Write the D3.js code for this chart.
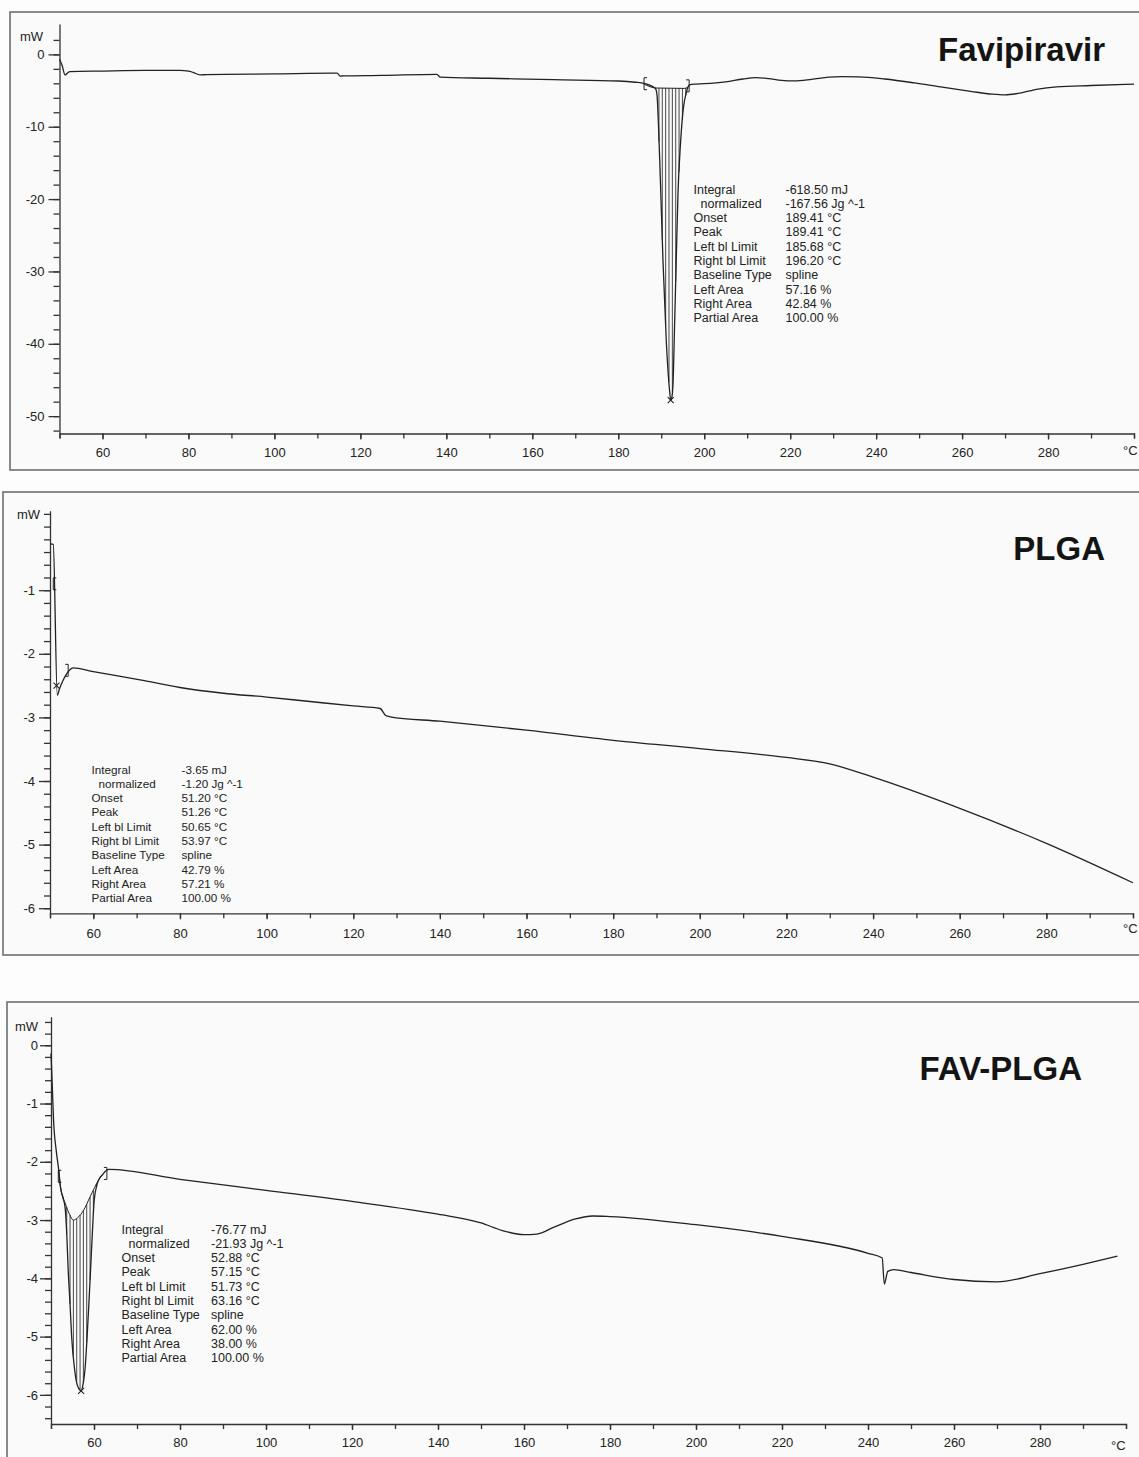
<!DOCTYPE html>
<html>

<head>
    <meta charset="utf-8">
    <style>
        body {
            margin: 0;
            background: #fdfdfd;
            font-family: 'Liberation Sans', Arial, sans-serif;
        }

        svg {
            display: block;
        }

        .axis .domain,
        .axis .tick line {
            stroke: #333;
            stroke-width: 1.3;
        }

        .axis .tick text {
            font-size: 13px;
            fill: #222;
            font-family: 'Liberation Sans', Arial, sans-serif;
        }

        .curve {
            fill: none;
            stroke: #222;
            stroke-width: 1.3;
        }

        .note {
            fill: #222;
        }

        .title {
            font-size: 33px;
            font-weight: bold;
            fill: #141414;
        }
    </style>
</head>

<body>
    <svg width="1139" height="1457"></svg>
</body>

<script src="https://d3js.org/d3.v7.min.js"></script>

<script>
    // ---- data: [temperature °C, heat flow mW] ----

    const favCurve = [
        [50, -0.67], [50.6, -1.5], [51.3, -2.84], [51.8, -2.6], [52.4, -2.38], [60, -2.3], [70, -2.22],
        [78, -2.22], [80, -2.3], [81.1, -2.5], [82.7, -2.84], [84.2, -2.79], [100, -2.7], [113.7, -2.6],
        [114.6, -2.6], [115.3, -3.0], [116, -2.97], [125, -2.9], [137.8, -2.75], [138.6, -3.15],
        [150, -3.3], [165, -3.5], [180, -3.68], [184, -3.85], [186, -4.0], [187.7, -4.35], [188.7, -4.75],
        [189.0, -5.5], [189.65, -14.6], [190.4, -28.4], [191.2, -39.9], [191.95, -46.5], [192.2, -47.8],
        [192.5, -47.3], [192.75, -45.5], [193.1, -37.6], [193.5, -28.4], [193.9, -19.2], [194.5, -12.2],
        [195.1, -7.7], [195.9, -5.1], [196.6, -4.2], [198, -4.1], [200, -4.05], [205, -3.8], [209, -3.4],
        [212, -3.2], [215, -3.35], [218, -3.6], [221, -3.67], [225, -3.45], [229, -3.15], [232, -3.07],
        [236, -3.1], [242, -3.4], [249, -3.95], [255, -4.5], [262, -5.1], [267, -5.5], [270, -5.6],
        [273, -5.4], [277.7, -4.8], [282, -4.5], [290, -4.3], [300, -4.1]
    ];
    const favBaseline = [[186.0, -4.1], [188.8, -4.65], [195.5, -4.7], [196.5, -4.35]];
    const favLimits = [[186.0, -4.05], [196.5, -4.35]];
    const favPeak = [192.2, -47.8];

    const plgaCurve = [
        [50.15, -0.27], [50.75, -0.28], [51.68, -2.65], [52.2, -2.55], [53, -2.42], [54.6, -2.25],
        [55.3, -2.22], [60, -2.28], [70.8, -2.41], [80, -2.53], [90, -2.62], [100, -2.68], [110, -2.75],
        [120, -2.82], [126.2, -2.86], [127.5, -2.97], [128.5, -2.99], [140, -3.06], [160, -3.2],
        [180, -3.36], [200, -3.49], [220, -3.63], [230, -3.73], [240, -3.94], [260, -4.43],
        [280, -4.98], [300, -5.6]
    ];
    const plgaBaseline = [];
    const plgaLimits = [[50.76, -0.9], [54.2, -2.26]];
    const plgaPeak = [51.5, -2.5];

    const favPlgaCurve = [
        [50, -0.14], [50.3, -0.7], [50.6, -1.29], [51.2, -1.8], [51.8, -2.14], [52.2, -2.43], [52.8, -2.62],
        [53.3, -2.8], [53.7, -3.3], [54.0, -3.86], [54.4, -4.4], [54.8, -5.0], [55.5, -5.57], [56.2, -5.85],
        [57.0, -5.93], [57.5, -5.8], [57.9, -5.57], [58.4, -5.0], [58.8, -4.45], [59.2, -3.86], [59.6, -3.25],
        [60.0, -2.71], [60.6, -2.42], [61.1, -2.31], [62, -2.22], [63, -2.14], [63.5, -2.13], [80, -2.3],
        [100, -2.49], [120, -2.68], [140, -2.9], [150, -3.05], [155, -3.18], [160, -3.25], [163, -3.24],
        [167, -3.12], [172, -2.98], [176, -2.93], [180, -2.94], [200, -3.08], [220, -3.28], [240, -3.57],
        [243.3, -3.65], [243.8, -4.1], [244.6, -3.88], [246, -3.85], [250, -3.9], [260, -4.02],
        [270, -4.06], [280, -3.92], [290, -3.76], [298, -3.62]
    ];
    const favPlgaBaseline = [
        [51.8, -2.14], [52.2, -2.43], [53.3, -2.71], [54.3, -2.9], [55.2, -3.0], [56.2, -2.96],
        [57.6, -2.83], [59.1, -2.6], [61.1, -2.31], [63.0, -2.14]
    ];
    const favPlgaLimits = [[51.7, -2.25], [63.0, -2.2]];
    const favPlgaPeak = [57.0, -5.93];

    // integration report labels / values
    const noteLabels = ["Integral", "normalized", "Onset", "Peak", "Left bl Limit", "Right bl Limit",
        "Baseline Type", "Left Area", "Right Area", "Partial Area"];
    const favNotes = ["-618.50 mJ", "-167.56 Jg ^-1", "189.41 °C", "189.41 °C", "185.68 °C", "196.20 °C",
        "spline", "57.16 %", "42.84 %", "100.00 %"];
    const plgaNotes = ["-3.65 mJ", "-1.20 Jg ^-1", "51.20 °C", "51.26 °C", "50.65 °C", "53.97 °C",
        "spline", "42.79 %", "57.21 %", "100.00 %"];
    const favPlgaNotes = ["-76.77 mJ", "-21.93 Jg ^-1", "52.88 °C", "57.15 °C", "51.73 °C", "63.16 °C",
        "spline", "62.00 %", "38.00 %", "100.00 %"];

    // tick labels
    const xTicks = [60, 80, 100, 120, 140, 160, 180, 200, 220, 240, 260, 280];
    const favYTicks = [0, -10, -20, -30, -40, -50];
    const plgaYTicks = [-1, -2, -3, -4, -5, -6];
    const favPlgaYTicks = [0, -1, -2, -3, -4, -5, -6];

    const svg = d3.select("svg");

    const panels = [
        {
            title: "Favipiravir", titleX: 1105, titleY: 61,
            frame: [10, 12, 1140, 470],
            xRange: [59.5, 1134], yDomain: [-52.4, 4.2], yRange: [433.5, 24],
            yTicks: favYTicks, yMinor: d3.range(-52, 2.1, 2), yPad: 4,
            mW: [43, 36], unit: [1123, 455], xPad: 8,
            curve: favCurve, baseline: favBaseline, limits: favLimits, peak: favPeak,
            hatch: d3.range(186.35, 196.5, 0.78),
            notes: favNotes, noteX: [693.5, 785.5], noteY: 193.5, noteSize: 12.5
        },
        {
            title: "PLGA", titleX: 1105, titleY: 560,
            frame: [3, 492, 1140, 955],
            xRange: [50, 1133], yDomain: [-6.08, 0.25], yRange: [913.3, 510.7],
            yTicks: plgaYTicks, yMinor: d3.range(-6, 0.21, 0.2), yPad: 4,
            mW: [40, 514], unit: [1123, 933], xPad: 9,
            curve: plgaCurve, baseline: plgaBaseline, limits: plgaLimits, peak: plgaPeak,
            hatch: [],
            notes: plgaNotes, noteX: [91.5, 181.5], noteY: 773.5, noteSize: 11.7
        },
        {
            title: "FAV-PLGA", titleX: 1082, titleY: 1080,
            frame: [7, 1002, 1140, 1470],
            xRange: [51, 1126], yDomain: [-6.5, 0.49], yRange: [1424, 1016.7],
            yTicks: favPlgaYTicks, yMinor: d3.range(-6.4, 0.41, 0.2), yPad: 2,
            mW: [38, 1026], unit: [1111, 1450], xPad: 8,
            curve: favPlgaCurve, baseline: favPlgaBaseline, limits: favPlgaLimits, peak: favPlgaPeak,
            hatch: d3.range(52.1, 63, 0.776),
            notes: favPlgaNotes, noteX: [121.5, 211], noteY: 1233.5, noteSize: 12.5
        }
    ];

    // linear read-out of a [t, v] series at t
    let curveAt = function (t, arr) {
        let i = d3.bisector(function (d) { return d[0] }).left(arr, t);
        if (i <= 0) return arr[0][1];
        if (i >= arr.length) return arr[arr.length - 1][1];
        let a = arr[i - 1], b = arr[i];
        return a[1] + (b[1] - a[1]) * (t - a[0]) / (b[0] - a[0]);
    };

    panels.forEach(function (p) {
        let g = svg.append("g");

        // grey frame
        g.append("rect")
            .attr("x", p.frame[0]).attr("y", p.frame[1])
            .attr("width", p.frame[2] - p.frame[0]).attr("height", p.frame[3] - p.frame[1])
            .style("fill", "#fafafa").style("stroke", "#6e6e6e").style("stroke-width", 1.6);

        let x = d3.scaleLinear().domain([50, 300]).range(p.xRange);
        let y = d3.scaleLinear().domain(p.yDomain).range(p.yRange);

        // x axis: minor every 10, labels every 20
        g.append("g")
            .attr("class", "axis")
            .attr("transform", `translate(0,${p.yRange[0]})`)
            .call(d3.axisBottom(x).tickValues(d3.range(50, 301, 10)).tickSize(5).tickFormat(""));
        g.append("g")
            .attr("class", "axis")
            .attr("transform", `translate(0,${p.yRange[0]})`)
            .call(d3.axisBottom(x).tickValues(xTicks).tickSize(6).tickPadding(p.xPad).tickSizeOuter(0))
            .select(".domain").remove();

        // y axis (plain hyphen for negatives, like the instrument print-out)
        g.append("g")
            .attr("class", "axis")
            .attr("transform", `translate(${p.xRange[0]},0)`)
            .call(d3.axisLeft(y).tickValues(p.yMinor).tickSize(6).tickSizeOuter(0).tickFormat(""));
        g.append("g")
            .attr("class", "axis")
            .attr("transform", `translate(${p.xRange[0]},0)`)
            .call(d3.axisLeft(y).tickValues(p.yTicks).tickSize(11).tickPadding(p.yPad)
                .tickFormat(function (d) { return String(d) }))
            .select(".domain").remove();

        g.append("text").attr("x", p.mW[0]).attr("y", p.mW[1]).attr("dy", "0.35em")
            .attr("text-anchor", "end").style("font-size", "13px").style("fill", "#222").text("mW");
        g.append("text").attr("x", p.unit[0]).attr("y", p.unit[1])
            .style("font-size", "13px").style("fill", "#222").text("°C");

        // hatching between spline baseline and the curve
        if (p.baseline.length) {
            let lo = p.baseline[0][0], hi = p.baseline[p.baseline.length - 1][0];
            g.append("g").selectAll("line")
                .data(p.hatch.filter(function (t) { return t > lo && t < hi }))
                .join("line")
                .attr("x1", function (t) { return x(t) })
                .attr("x2", function (t) { return x(t) })
                .attr("y1", function (t) { return y(curveAt(t, p.baseline)) })
                .attr("y2", function (t) { return y(Math.min(curveAt(t, p.curve), curveAt(t, p.baseline))) })
                .style("stroke", "#333").style("stroke-width", 0.9);

            g.append("path")
                .datum(p.baseline)
                .attr("class", "curve")
                .style("stroke-width", 1)
                .attr("d", d3.line().x(function (d) { return x(d[0]) }).y(function (d) { return y(d[1]) })
                    .curve(d3.curveMonotoneX));
        }

        // the thermogram
        g.append("path")
            .datum(p.curve)
            .attr("class", "curve")
            .attr("d", d3.line().x(function (d) { return x(d[0]) }).y(function (d) { return y(d[1]) })
                .curve(d3.curveMonotoneX));

        // baseline limit brackets
        p.limits.forEach(function (d, i) {
            let cx = x(d[0]), cy = y(d[1]);
            let s = i === 0 ? 1 : -1;
            g.append("path")
                .attr("d", `M${cx + 3 * s},${cy - 6}H${cx}V${cy + 6}H${cx + 3 * s}`)
                .style("fill", "none").style("stroke", "#222").style("stroke-width", 1);
        });

        // peak marker
        let px = x(p.peak[0]), py = y(p.peak[1]);
        g.append("path")
            .attr("d", `M${px - 3},${py - 3}L${px + 3},${py + 3}M${px - 3},${py + 3}L${px + 3},${py - 3}`)
            .style("stroke", "#222").style("stroke-width", 1.1);

        // integration report
        let notes = g.append("g").style("font-size", p.noteSize + "px");
        noteLabels.forEach(function (lab, i) {
            notes.append("text").attr("class", "note")
                .attr("x", p.noteX[0] + (i === 1 ? 7 : 0)).attr("y", p.noteY + i * 14.3)
                .text(lab);
            notes.append("text").attr("class", "note")
                .attr("x", p.noteX[1]).attr("y", p.noteY + i * 14.3)
                .text(p.notes[i]);
        });

        g.append("text").attr("class", "title")
            .attr("x", p.titleX).attr("y", p.titleY)
            .attr("text-anchor", "end")
            .text(p.title);
    });
</script>

</html>
